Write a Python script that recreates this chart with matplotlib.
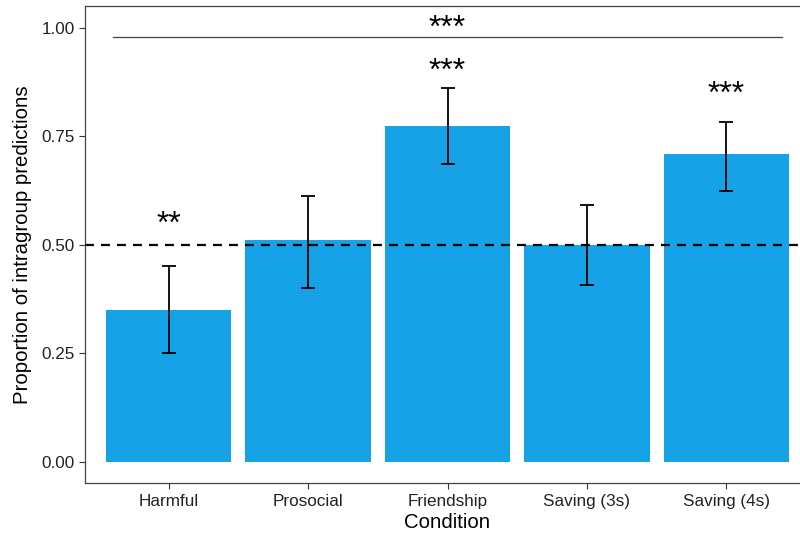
import matplotlib

matplotlib.use("Agg")
import matplotlib.pyplot as plt

conditions = ["Harmful", "Prosocial", "Friendship", "Saving (3s)", "Saving (4s)"]
proportions = [0.35, 0.511, 0.774, 0.50, 0.708]
ci_low = [0.25, 0.399, 0.687, 0.408, 0.624]
ci_high = [0.45, 0.612, 0.862, 0.591, 0.782]
star_labels = ["**", "", "***", "", "***"]
star_y = [0.545, 0.0, 0.898, 0.0, 0.845]
yticks = [0.00, 0.25, 0.50, 0.75, 1.00]
overall_label = "***"
overall_y = 0.979
overall_star_y = 0.997
overall_span = (0.6, 5.4)
chance = 0.5

plt.rcParams["font.family"] = ["Liberation Sans", "DejaVu Sans"]

fig = plt.figure(figsize=(8, 5.33), dpi=100)
ax = fig.add_axes([85 / 800, 1 - 483.3 / 533, 725 / 800, (483.3 - 6) / 533])

xs = list(range(1, len(conditions) + 1))
ax.bar(xs, proportions, width=0.9, color="#16a2e6", zorder=2)
yerr = [
    [p - lo for p, lo in zip(proportions, ci_low)],
    [hi - p for p, hi in zip(proportions, ci_high)],
]
ax.errorbar(xs, proportions, yerr=yerr, fmt="none", ecolor="black",
            elinewidth=1.3, capsize=4.8, capthick=1.3, zorder=4)
ax.axhline(chance, color="black", lw=1.6, dashes=(4, 3.2), zorder=3)

for x, lab, y in zip(xs, star_labels, star_y):
    if lab:
        ax.text(x, y, lab, ha="center", va="center", fontsize=23, color="black")

ax.plot(overall_span, [overall_y, overall_y], color="#444444", lw=0.9)
ax.text(sum(overall_span) / 2, overall_star_y, overall_label, ha="center",
        va="center", fontsize=23, color="black")

ax.set_xlim(0.4, 5.6)
ax.set_ylim(-0.05, 1.05)
ax.set_xticks(xs)
ax.set_xticklabels(conditions)
ax.set_yticks(yticks)
ax.set_yticklabels([f"{t:.2f}" for t in yticks])
ax.tick_params(axis="both", labelsize=12.3, colors="#333333", labelcolor="#222222",
               length=4, width=0.8)
for side in ("left", "bottom", "top", "right"):
    ax.spines[side].set_color("#444444")
    ax.spines[side].set_linewidth(0.9)

ax.set_xlabel("Condition", fontsize=14.7, labelpad=3)
ax.set_ylabel("Proportion of intragroup predictions", fontsize=14.7, labelpad=7)

fig.savefig("out.png", dpi=100)
